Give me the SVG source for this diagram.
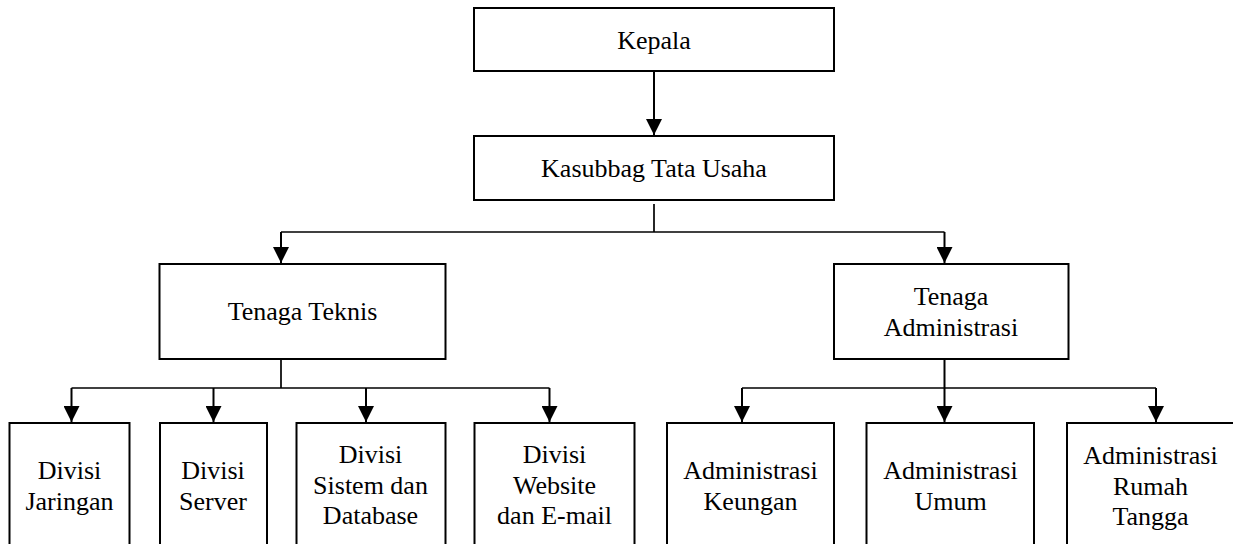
<svg xmlns="http://www.w3.org/2000/svg" width="1233" height="544" viewBox="0 0 1233 544">
<style>
  .box { fill: #fff; stroke: #000; stroke-width: 2; }
  .lbl { font-family: 'Liberation Serif', serif; font-size: 26px; fill: #000; text-anchor: middle; }
  .ln { fill: none; stroke: #000; stroke-width: 1.7; }
  .ar { fill: none; stroke: #000; stroke-width: 2; marker-end: url(#ah); }
</style>
<defs>
  <marker id="ah" viewBox="0 0 16 16" refX="16" refY="8" markerWidth="16" markerHeight="16" markerUnits="userSpaceOnUse" orient="auto">
    <path d="M0,0 L16,8 L0,16 z" fill="#000"/>
  </marker>
</defs>
<rect width="1233" height="544" fill="#fff"/>
<g id="connectors">
  <path class="ar" d="M654,71 V135"/>
  <path class="ln" d="M654,204 V232"/>
  <path class="ln" d="M281,232 H944.5"/>
  <path class="ar" d="M281,232 V263"/>
  <path class="ar" d="M944.5,232 V263"/>
  <path class="ln" d="M281,359 V388"/>
  <path class="ln" d="M71.5,388 H549.5"/>
  <path class="ar" d="M71.5,388 V422"/>
  <path class="ar" d="M213.5,388 V422"/>
  <path class="ar" d="M366,388 V422"/>
  <path class="ar" d="M549.5,388 V422"/>
  <path class="ar" d="M944.5,359 V422"/>
  <path class="ln" d="M742,388 H1156"/>
  <path class="ar" d="M742,388 V422"/>
  <path class="ar" d="M1156,388 V422"/>
</g>
<g id="kepala">
  <rect class="box" x="474" y="8" width="360" height="63"/>
  <text class="lbl" x="654" y="49" font-family="Liberation Serif">Kepala</text>
</g>
<g id="kasubbag">
  <rect class="box" x="474" y="136" width="360" height="64"/>
  <text class="lbl" x="654" y="177" font-family="Liberation Serif">Kasubbag Tata Usaha</text>
</g>
<g id="tenaga-teknis">
  <rect class="box" x="159.5" y="264" width="286" height="95"/>
  <text class="lbl" x="302.5" y="320" font-family="Liberation Serif">Tenaga Teknis</text>
</g>
<g id="tenaga-administrasi">
  <rect class="box" x="834" y="264" width="234.5" height="95"/>
  <text class="lbl" x="951" y="305" font-family="Liberation Serif">Tenaga</text>
  <text class="lbl" x="951" y="336" font-family="Liberation Serif">Administrasi</text>
</g>
<g id="divisi-jaringan">
  <rect class="box" x="9.5" y="423" width="120" height="140"/>
  <text class="lbl" x="69.5" y="479" font-family="Liberation Serif">Divisi</text>
  <text class="lbl" x="69.5" y="510" font-family="Liberation Serif">Jaringan</text>
</g>
<g id="divisi-server">
  <rect class="box" x="160" y="423" width="107" height="140"/>
  <text class="lbl" x="213" y="479" font-family="Liberation Serif">Divisi</text>
  <text class="lbl" x="213" y="510" font-family="Liberation Serif">Server</text>
</g>
<g id="divisi-sistem">
  <rect class="box" x="296.5" y="423" width="149" height="140"/>
  <text class="lbl" x="370.5" y="463" font-family="Liberation Serif">Divisi</text>
  <text class="lbl" x="370.5" y="494" font-family="Liberation Serif">Sistem dan</text>
  <text class="lbl" x="370.5" y="524" font-family="Liberation Serif">Database</text>
</g>
<g id="divisi-website">
  <rect class="box" x="474.5" y="423" width="160" height="140"/>
  <text class="lbl" x="554.5" y="463" font-family="Liberation Serif">Divisi</text>
  <text class="lbl" x="554.5" y="494" font-family="Liberation Serif">Website</text>
  <text class="lbl" x="554.5" y="524" font-family="Liberation Serif">dan E-mail</text>
</g>
<g id="administrasi-keuangan">
  <rect class="box" x="667" y="423" width="167" height="140"/>
  <text class="lbl" x="750.5" y="479" font-family="Liberation Serif">Administrasi</text>
  <text class="lbl" x="750.5" y="510" font-family="Liberation Serif">Keungan</text>
</g>
<g id="administrasi-umum">
  <rect class="box" x="866.5" y="423" width="167.5" height="140"/>
  <text class="lbl" x="950.5" y="479" font-family="Liberation Serif">Administrasi</text>
  <text class="lbl" x="950.5" y="510" font-family="Liberation Serif">Umum</text>
</g>
<g id="administrasi-rumah-tangga">
  <rect class="box" x="1067" y="423" width="175" height="140"/>
  <text class="lbl" x="1150.5" y="464" font-family="Liberation Serif">Administrasi</text>
  <text class="lbl" x="1150.5" y="495" font-family="Liberation Serif">Rumah</text>
  <text class="lbl" x="1150.5" y="525" font-family="Liberation Serif">Tangga</text>
</g>
</svg>
